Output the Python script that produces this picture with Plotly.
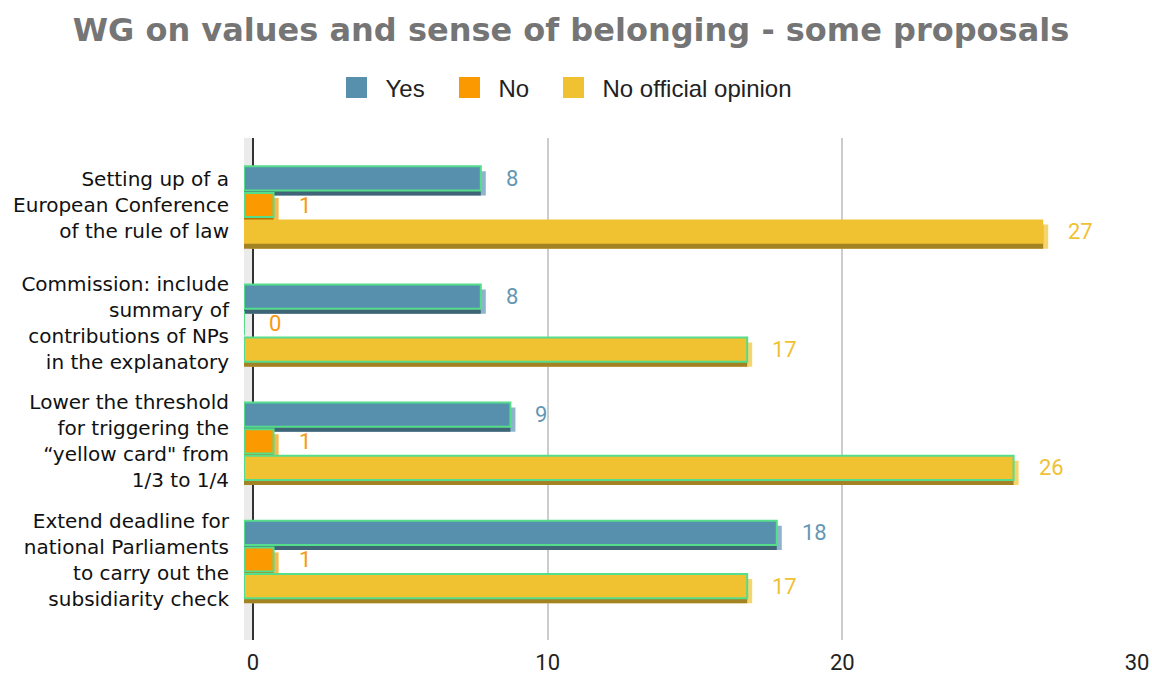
import plotly.graph_objects as go

# ---------------- data ----------------
categories = [
    "Setting up of a<br>European Conference<br>of the rule of law",
    "Commission: include<br>summary of<br>contributions of NPs<br>in the explanatory",
    "Lower the threshold<br>for triggering the<br>“yellow card\" from<br>1/3 to 1/4",
    "Extend deadline for<br>national Parliaments<br>to carry out the<br>subsidiarity check",
]
series_names = ["Yes", "No", "No official opinion"]
yes_values = [8, 8, 9, 18]
no_values = [1, 0, 1, 1]
no_opinion_values = [27, 17, 26, 17]
x_ticks = [0, 10, 20, 30]
# which bars carry the green highlight outline
yes_highlight = [True, True, True, True]
no_highlight = [True, True, True, True]
no_opinion_highlight = [False, True, True, True]

# ---------------- style ----------------
front_colors = ["#5790ad", "#fa9a00", "#f0c232"]
dark_colors = ["#3e6475", "#b86f00", "#a38224"]
light_colors = ["#8db4cc", "#fbb94d", "#f7d56e"]
label_colors = ["#6497b4", "#f79a12", "#efc134"]
outline_color = "#55dd8c"
legend_entry_widths = [50, 41, 195]

W, H = 1152, 675
X_LEFT_PX, X_RIGHT_PX = 244, 1137
Y_TOP_PX, Y_BOT_PX = 138, 640
PX_PER_X = 29.47               # back plane (grid) scale
FRONT_PX_PER_X = 29.6          # front plane (bars) scale
WALL = 9 / PX_PER_X            # 3D wall depth in x units
DEPTH_X = 5 / FRONT_PX_PER_X   # bar depth in front-axis units
CAT_PX0, CAT_PITCH = 205, 118.17
DEPTH_Y = 5 / CAT_PITCH
y_range = [(Y_BOT_PX - CAT_PX0) / CAT_PITCH, (Y_TOP_PX - CAT_PX0) / CAT_PITCH]
front_range = [0, (X_RIGHT_PX - X_LEFT_PX) / FRONT_PX_PER_X]

bar_offsets = [-0.328, -0.1025, 0.122]
bar_width = 0.205

values = [yes_values, no_values, no_opinion_values]
highlights = [yes_highlight, no_highlight, no_opinion_highlight]
ypos = list(range(len(categories)))

fig = go.Figure()

# depth faces (light right side, then dark bottom), then front faces
for i, vals in enumerate(values):
    fig.add_trace(go.Bar(
        y=ypos, x=vals, orientation="h", xaxis="x2", yaxis="y",
        base=[DEPTH_X] * len(vals),
        offset=bar_offsets[i] + DEPTH_Y, width=bar_width,
        marker=dict(color=light_colors[i], line=dict(width=0)),
        showlegend=False, hoverinfo="skip"))
    fig.add_trace(go.Bar(
        y=ypos, x=vals, orientation="h", xaxis="x2", yaxis="y",
        offset=bar_offsets[i] + DEPTH_Y, width=bar_width,
        marker=dict(color=dark_colors[i], line=dict(width=0)),
        showlegend=False, hoverinfo="skip"))
for i, vals in enumerate(values):
    fig.add_trace(go.Bar(
        y=ypos, x=vals, orientation="h", xaxis="x2", yaxis="y",
        offset=bar_offsets[i], width=bar_width,
        marker=dict(color=front_colors[i],
                    line=dict(width=2,
                              color=[outline_color if h else "rgba(0,0,0,0)" for h in highlights[i]])),
        name=series_names[i], showlegend=False))

# legend entries
for i, name in enumerate(series_names):
    fig.add_trace(go.Scatter(
        x=[None], y=[None], mode="markers", name=name,
        legendwidth=legend_entry_widths[i],
        marker=dict(symbol="square", size=16, color=front_colors[i],
                    line=dict(width=5, color=front_colors[i]))))

# value labels
for i, vals in enumerate(values):
    for j, v in enumerate(vals):
        fig.add_annotation(
            x=v, y=j + bar_offsets[i] + bar_width / 2,
            xref="x2", yref="y", text=str(v), showarrow=False,
            xanchor="left", yanchor="middle", xshift=23,
            font=dict(family="Roboto", size=22, color=label_colors[i]))

# 3D side wall
fig.add_shape(type="rect", xref="x", yref="y domain",
              x0=-WALL, x1=0, y0=0, y1=1,
              fillcolor="#ebebeb", line=dict(width=0), layer="below")

fig.update_layout(
    width=W, height=H,
    margin=dict(l=0, r=0, t=0, b=0),
    paper_bgcolor="white", plot_bgcolor="white",
    barmode="overlay",
    title=dict(text="WG on values and sense of belonging - some proposals",
               x=571 / W, xanchor="center", xref="paper",
               y=1 - 30 / H, yanchor="middle", yref="paper",
               font=dict(family="DejaVu Sans", size=32, color="#757575", weight="bold")),
    legend=dict(orientation="h", x=327.5 / W, xanchor="left", y=1 - 88 / H, yanchor="middle",
                font=dict(family="Liberation Sans", size=24, color="#222222"),
                itemsizing="trace", itemwidth=48, bgcolor="rgba(0,0,0,0)"),
    xaxis=dict(domain=[X_LEFT_PX / W, X_RIGHT_PX / W],
               range=[-WALL, x_ticks[-1]],
               tickvals=x_ticks, ticktext=[str(t) for t in x_ticks],
               showgrid=True, gridcolor="#cccccc", gridwidth=2,
               zeroline=True, zerolinecolor="#333333", zerolinewidth=2,
               showline=False, ticks="", ticklabelstandoff=7,
               tickfont=dict(family="Roboto", size=22, color="#222222"),
               automargin=False, fixedrange=True),
    xaxis2=dict(overlaying="x", anchor="y", range=front_range,
                visible=False, showgrid=False, zeroline=False, fixedrange=True),
    yaxis=dict(domain=[1 - Y_BOT_PX / H, 1 - Y_TOP_PX / H],
               range=y_range,
               tickvals=ypos, ticktext=categories,
               showgrid=False, zeroline=False, showline=False, ticks="",
               ticklabelstandoff=14,
               tickfont=dict(family="DejaVu Sans", size=20, color="#111111"),
               automargin=False, fixedrange=True),
)

fig.write_html("out.html")
